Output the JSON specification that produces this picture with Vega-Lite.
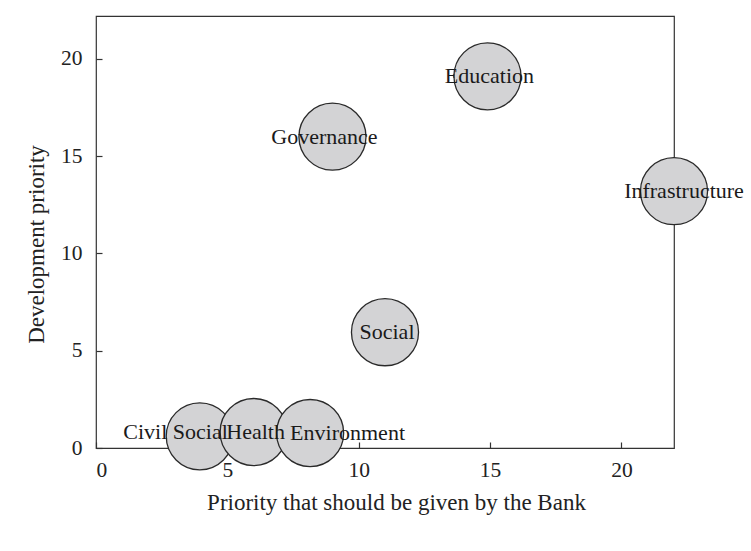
{
  "$schema": "https://vega.github.io/schema/vega-lite/v6.json",
  "width": 578,
  "height": 432,
  "autosize": "none",
  "padding": {"left": 96, "top": 16, "right": 77, "bottom": 103},
  "background": "white",
  "config": {
    "font": "Liberation Serif",
    "view": {"stroke": "#333333", "strokeWidth": 1.2},
    "axis": {
      "labelFont": "Liberation Serif",
      "titleFont": "Liberation Serif",
      "labelFontSize": 21.5,
      "titleFontSize": 23,
      "titleFontWeight": "normal",
      "labelColor": "#222222",
      "titleColor": "#222222",
      "domain": false,
      "grid": false,
      "ticks": true,
      "tickSize": -6,
      "tickWidth": 1.2,
      "tickColor": "#333333"
    }
  },
  "data": {
    "values": [
      {"area": "Education", "bank": 14.9, "dev": 19.1},
      {"area": "Governance", "bank": 9.0, "dev": 16.0},
      {"area": "Infrastructure", "bank": 22.0, "dev": 13.2},
      {"area": "Social", "bank": 11.0, "dev": 5.95},
      {"area": "Civil Social", "bank": 3.95, "dev": 0.6},
      {"area": "Health", "bank": 6.0, "dev": 0.82},
      {"area": "Environment", "bank": 8.15, "dev": 0.77}
    ]
  },
  "encoding": {
    "x": {
      "field": "bank", "type": "quantitative",
      "scale": {"domain": [0, 22], "nice": false, "zero": false},
      "axis": {"title": "Priority that should be given by the Bank", "values": [0, 5, 10, 15, 20], "labelPadding": 17, "titlePadding": 11, "titleX": 300}
    },
    "y": {
      "field": "dev", "type": "quantitative",
      "scale": {"domain": [0, 22.2], "nice": false, "zero": false},
      "axis": {"title": "Development priority", "values": [0, 5, 10, 15, 20], "labelPadding": 20, "titlePadding": 12, "titleY": 228}
    }
  },
  "layer": [
    {
      "mark": {"type": "point", "shape": "circle", "filled": true, "fill": "#d3d3d5", "stroke": "#2a2a2a", "strokeWidth": 1.3, "opacity": 1, "size": 4500, "clip": false}
    },
    {
      "transform": [{"filter": "datum.area === 'Education' || datum.area === 'Health' || datum.area === 'Social'"}],
      "mark": {"type": "text", "fontSize": 22, "color": "#1a1a1a", "align": "center", "baseline": "middle", "dx": 2},
      "encoding": {"text": {"field": "area"}}
    },
    {
      "transform": [{"filter": "datum.area === 'Governance'"}],
      "mark": {"type": "text", "fontSize": 22, "color": "#1a1a1a", "align": "center", "baseline": "middle", "dx": -8},
      "encoding": {"text": {"field": "area"}}
    },
    {
      "transform": [{"filter": "datum.area === 'Infrastructure'"}],
      "mark": {"type": "text", "fontSize": 22, "color": "#1a1a1a", "align": "center", "baseline": "middle", "dx": 10},
      "encoding": {"text": {"field": "area"}}
    },
    {
      "transform": [{"filter": "datum.area === 'Civil Social'"}],
      "mark": {"type": "text", "fontSize": 22, "color": "#1a1a1a", "align": "right", "baseline": "middle", "dx": 28, "dy": -4},
      "encoding": {"text": {"field": "area"}}
    },
    {
      "transform": [{"filter": "datum.area === 'Environment'"}],
      "mark": {"type": "text", "fontSize": 22, "color": "#1a1a1a", "align": "left", "baseline": "middle", "dx": -20},
      "encoding": {"text": {"field": "area"}}
    }
  ]
}
